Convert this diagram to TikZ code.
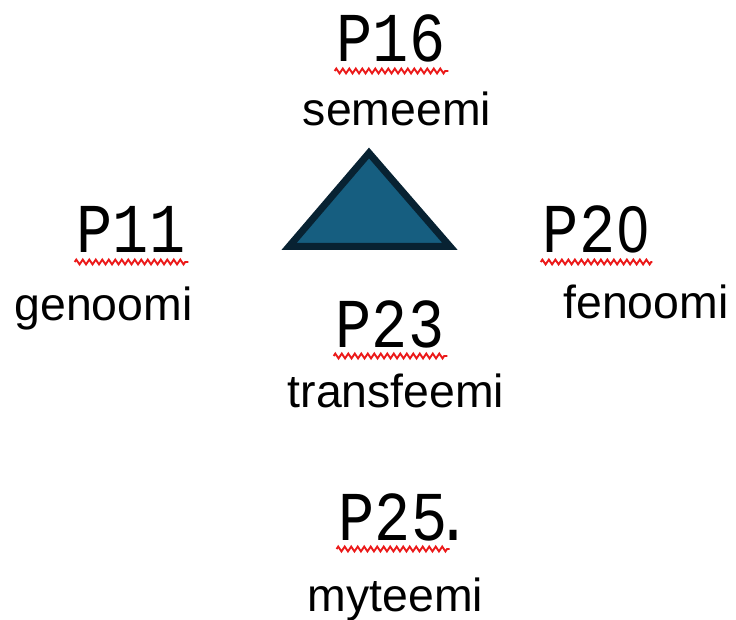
\documentclass[tikz,border=0pt]{standalone}
\usepackage{fontspec}
\setmainfont{Liberation Sans}
\newfontfamily\pmono{Liberation Mono}
\newfontfamily\pzero{Liberation Sans}
\usetikzlibrary{decorations.pathmorphing,calc}
\definecolor{trifill}{RGB}{22,94,128}
\definecolor{tridraw}{RGB}{8,34,50}
\definecolor{spellred}{RGB}{235,25,25}
\tikzset{
  plabel/.style={inner sep=0pt,anchor=base,xscale=0.86,font=\pmono\fontsize{70}{74}\selectfont},
  wlabel/.style={inner sep=0pt,anchor=base,font=\fontsize{46.4}{50}\selectfont},
  spell/.style={draw=spellred,line width=1.9pt,decorate,decoration={zigzag,segment length=6.5pt,amplitude=2.4pt}}
}
\begin{document}
\begin{tikzpicture}[x=1pt,y=-1pt]
\useasboundingbox (0,0) rectangle (736,620);
% triangle
\draw[fill=trifill,draw=tridraw,line width=7pt,line join=miter]
  (369,153) -- (450,246.5) -- (289,246.5) -- cycle;
% labels
\node[plabel] (p16) at (391,62) {P16};
\node[wlabel] (sem) at (397,126) {semeemi};
\node[plabel] (p11) at (131,253) {P11};
\node[wlabel] (gen) at (103.5,320) {genoomi};
\node[plabel] (p20) at (596,253) {P2\kern0.04em{\pzero\fontsize{66}{70}\selectfont 0}};
\node[wlabel] (fen) at (646,318) {fenoomi};
\node[plabel] (p23) at (390,347) {P23};
\node[wlabel] (tra) at (396,407) {transfeemi};
\node[plabel] (p25) at (405,540) {P25\kern-0.2em.};
\node[wlabel] (myt) at (395.5,611) {myteemi};
% spell-check underlines
\foreach \n in {p16,p11,p20,p23}{
  \draw[spell] ($(\n.base west)+(-2,9)$) -- ($(\n.base east)+(3,9)$);
}
\draw[spell] ($(p25.base west)+(-2,9)$) -- ($(p25.base west)+(111,9)$);
\end{tikzpicture}
\end{document}
